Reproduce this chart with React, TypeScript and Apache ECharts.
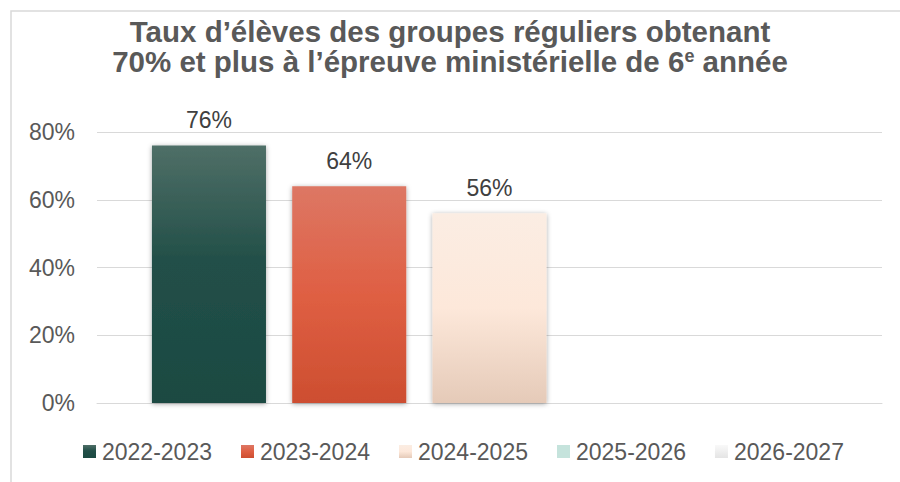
import React, { useEffect, useRef } from "react";
import * as echarts from "echarts";

const categories: string[] = [""];
const seriesNames: string[] = ["2022-2023", "2023-2024", "2024-2025", "2025-2026", "2026-2027"];
const values2022: (number | null)[] = [76];
const values2023: (number | null)[] = [64];
const values2024: (number | null)[] = [56];
const values2025: (number | null)[] = [null];
const values2026: (number | null)[] = [null];
const yTicks = { min: 0, max: 80, interval: 20 };

const grad = (stops: [number, string][]) =>
  new echarts.graphic.LinearGradient(0, 0, 0, 1, stops.map(([offset, color]) => ({ offset, color })));

const colors = [
  grad([[0, "#4f6f67"], [0.45, "#224f48"], [1, "#1b4a42"]]),
  grad([[0, "#dd7764"], [0.5, "#df5f43"], [1, "#cd4e30"]]),
  grad([[0, "#fbede3"], [0.5, "#fde8da"], [1, "#e5cab8"]]),
  "#c5e3dc",
  grad([[0, "#f9f9f9"], [1, "#e4e4e4"]]),
];

const seriesData = [values2022, values2023, values2024, values2025, values2026];

export default function App() {
  const ref = useRef<HTMLDivElement>(null);
  useEffect(() => {
    if (!ref.current) return;
    const chart = echarts.init(ref.current, undefined, { renderer: "svg" });
    const font = "'Liberation Sans', Arial, sans-serif";
    chart.setOption({
      animation: false,
      backgroundColor: "#ffffff",
      textStyle: { fontFamily: font },
      title: {
        left: "center",
        top: 11,
        padding: [5, 0, 5, 10],
        text: "Taux d’élèves des groupes réguliers obtenant\n70% et plus à l’épreuve ministérielle de 6{sup|e} année",
        textStyle: {
          fontFamily: font,
          fontSize: 29.5,
          fontWeight: "bold",
          color: "#595959",
          lineHeight: 30,
          rich: {
            sup: { fontFamily: font, fontSize: 18, fontWeight: "bold", color: "#595959", verticalAlign: "top", lineHeight: 18, padding: [1, 0, 0, 0] },
          },
        },
      },
      graphic: [
        {
          type: "rect",
          shape: { x: 11, y: 11, width: 900, height: 480 },
          style: { fill: "none", stroke: "#d9d9d9", lineWidth: 1.5 },
          silent: true,
        },
      ],
      legend: {
        left: 78,
        top: 435,
        itemWidth: 13,
        itemHeight: 13,
        itemGap: 29,
        icon: "rect",
        data: seriesNames,
        textStyle: { fontFamily: font, fontSize: 23, color: "#595959", padding: [0, 0, 0, 1] },
      },
      grid: { left: 97, right: 18, top: 132, bottom: 79, containLabel: false },
      xAxis: {
        type: "category",
        data: categories,
        axisLabel: { show: false },
        axisTick: { show: false },
        axisLine: { show: true, lineStyle: { color: "#d9d9d9", width: 1 } },
      },
      yAxis: {
        type: "value",
        min: yTicks.min,
        max: yTicks.max,
        interval: yTicks.interval,
        axisLabel: { formatter: "{value}%", fontFamily: font, fontSize: 23, color: "#595959", margin: 22 },
        axisLine: { show: false },
        axisTick: { show: false },
        splitLine: { lineStyle: { color: "#d9d9d9", width: 1 } },
      },
      series: seriesNames.map((name, i) => ({
        name,
        type: "bar",
        data: seriesData[i],
        barGap: "23%",
        barCategoryGap: "14%",
        itemStyle: {
          color: colors[i],
          shadowBlur: 5,
          shadowColor: "rgba(0,0,0,0.35)",
          shadowOffsetX: 0,
          shadowOffsetY: 1,
        },
        label: {
          show: true,
          position: "top",
          distance: 14,
          formatter: (p: any) => (p.value == null ? "" : `${Math.round(p.value)}%`),
          fontFamily: font,
          fontSize: 23,
          color: "#404040",
        },
      })),
    });
    return () => chart.dispose();
  }, []);
  return (
    <div
      ref={ref}
      style={{ position: "fixed", left: 0, top: 0, width: 900, height: 482, background: "#fff" }}
    />
  );
}
